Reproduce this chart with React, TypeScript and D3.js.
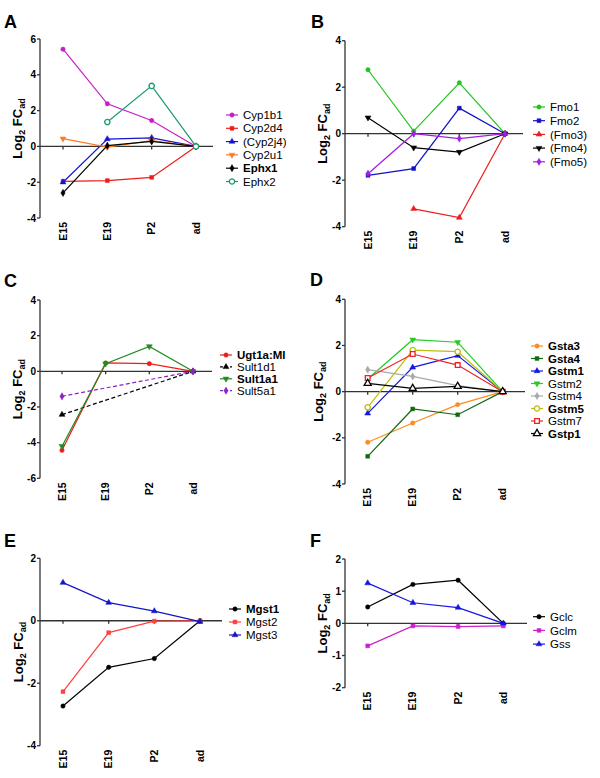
import { useRef, useEffect } from 'react';
import * as d3 from 'd3';

type Val = number | null;

const stages = ['E15', 'E19', 'P2', 'ad'];

// A - Cyp / Ephx
const cyp1b1: Val[] = [5.43, 2.38, 1.45, 0];
const cyp2d4: Val[] = [-1.95, -1.91, -1.73, 0];
const cyp2j4: Val[] = [-2.0, 0.41, 0.48, 0];
const cyp2u1: Val[] = [0.43, -0.04, 0.33, 0];
const ephx1: Val[] = [-2.6, 0.04, 0.28, 0];
const ephx2: Val[] = [null, 1.36, 3.38, 0];

// B - Fmo
const fmo1: Val[] = [2.75, 0.11, 2.19, 0];
const fmo2: Val[] = [-1.79, -1.5, 1.1, 0];
const fmo3: Val[] = [null, -3.23, -3.61, 0];
const fmo4: Val[] = [0.69, -0.6, -0.79, 0];
const fmo5: Val[] = [-1.72, 0, -0.21, 0];

// C - Ugt / Sult
const ugt1a: Val[] = [-4.43, 0.47, 0.43, 0];
const sult1d1: Val[] = [-2.43, null, null, 0];
const sult1a1: Val[] = [-4.2, 0.43, 1.4, 0];
const sult5a1: Val[] = [-1.4, null, null, 0];

// D - Gst
const gsta3: Val[] = [-2.19, -1.36, -0.56, 0];
const gsta4: Val[] = [-2.8, -0.75, -1.0, 0];
const gstm1: Val[] = [-0.94, 1.05, 1.56, 0];
const gstm2: Val[] = [0.55, 2.25, 2.14, 0];
const gstm4: Val[] = [0.95, 0.66, 0.26, 0];
const gstm5: Val[] = [-0.68, 1.8, 1.73, 0];
const gstm7: Val[] = [0.59, 1.63, 1.15, 0];
const gstp1: Val[] = [0.36, 0.14, 0.23, 0];

// E - Mgst
const mgst1: Val[] = [-2.73, -1.49, -1.21, 0];
const mgst2: Val[] = [-2.27, -0.38, -0.01, 0];
const mgst3: Val[] = [1.22, 0.58, 0.31, -0.03];

// F - glutathione synthesis
const gclc: Val[] = [0.51, 1.21, 1.34, 0];
const gclm: Val[] = [-0.7, -0.08, -0.1, -0.08];
const gss: Val[] = [1.25, 0.64, 0.49, 0];

type Marker = 'circle' | 'square' | 'triangle' | 'triangleDown' | 'diamond';

interface Series {
  name: string;
  values: Val[];
  color: string;
  marker: Marker;
  open?: boolean;
  bold?: boolean;
  dashed?: boolean;
}

interface Panel {
  letter: string;
  letterX: number;
  letterY: number;
  axisX: number;
  top: number;
  bottom: number;
  domain: [number, number];
  ticks: number[];
  xRange: [number, number];
  zeroEnd: number;
  labelX: number;
  legendX: number;
  legendY: number;
  legendStep: number;
  series: Series[];
}

const panels: Panel[] = [
  {
    letter: 'A', letterX: 4, letterY: 28,
    axisX: 40, top: 39, bottom: 218, domain: [-4, 6], ticks: [-4, -2, 0, 2, 4, 6],
    xRange: [63, 196], zeroEnd: 213, labelX: 17,
    legendX: 226, legendY: 115, legendStep: 13.3,
    series: [
      { name: 'Cyp1b1', values: cyp1b1, color: '#c51fc5', marker: 'circle' },
      { name: 'Cyp2d4', values: cyp2d4, color: '#ee1c1c', marker: 'square' },
      { name: '(Cyp2j4)', values: cyp2j4, color: '#1515d0', marker: 'triangle' },
      { name: 'Cyp2u1', values: cyp2u1, color: '#ff7b22', marker: 'triangleDown' },
      { name: 'Ephx1', values: ephx1, color: '#000000', marker: 'diamond', bold: true },
      { name: 'Ephx2', values: ephx2, color: '#1b9a6c', marker: 'circle', open: true },
    ],
  },
  {
    letter: 'B', letterX: 311, letterY: 28,
    axisX: 345, top: 40.7, bottom: 226.7, domain: [-4, 4], ticks: [-4, -2, 0, 2, 4],
    xRange: [368, 505], zeroEnd: 523, labelX: 322,
    legendX: 533, legendY: 107, legendStep: 13.7,
    series: [
      { name: 'Fmo1', values: fmo1, color: '#22c322', marker: 'circle' },
      { name: 'Fmo2', values: fmo2, color: '#1212c8', marker: 'square' },
      { name: '(Fmo3)', values: fmo3, color: '#ee1c1c', marker: 'triangle' },
      { name: '(Fmo4)', values: fmo4, color: '#000000', marker: 'triangleDown' },
      { name: '(Fmo5)', values: fmo5, color: '#a21ee8', marker: 'diamond' },
    ],
  },
  {
    letter: 'C', letterX: 4, letterY: 287,
    axisX: 40, top: 300, bottom: 478.3, domain: [-6, 4], ticks: [-6, -4, -2, 0, 2, 4],
    xRange: [62, 193], zeroEnd: 212, labelX: 17,
    legendX: 220, legendY: 355, legendStep: 11.9,
    series: [
      { name: 'Ugt1a:MI', values: ugt1a, color: '#ee1c1c', marker: 'circle', bold: true },
      { name: 'Sult1d1', values: sult1d1, color: '#000000', marker: 'triangle', dashed: true },
      { name: 'Sult1a1', values: sult1a1, color: '#228b22', marker: 'triangleDown', bold: true },
      { name: 'Sult5a1', values: sult5a1, color: '#8a22c8', marker: 'diamond', dashed: true },
    ],
  },
  {
    letter: 'D', letterX: 310, letterY: 286,
    axisX: 345, top: 299.3, bottom: 484, domain: [-4, 4], ticks: [-4, -2, 0, 2, 4],
    xRange: [367.7, 502.7], zeroEnd: 525, labelX: 318,
    legendX: 531, legendY: 346, legendStep: 12.5,
    series: [
      { name: 'Gsta3', values: gsta3, color: '#ff8a22', marker: 'circle', bold: true },
      { name: 'Gsta4', values: gsta4, color: '#136913', marker: 'square', bold: true },
      { name: 'Gstm1', values: gstm1, color: '#1515e6', marker: 'triangle', bold: true },
      { name: 'Gstm2', values: gstm2, color: '#26cc26', marker: 'triangleDown' },
      { name: 'Gstm4', values: gstm4, color: '#a8a8a8', marker: 'diamond' },
      { name: 'Gstm5', values: gstm5, color: '#bdbd10', marker: 'circle', open: true, bold: true },
      { name: 'Gstm7', values: gstm7, color: '#ee2222', marker: 'square', open: true },
      { name: 'Gstp1', values: gstp1, color: '#000000', marker: 'triangle', open: true, bold: true },
    ],
  },
  {
    letter: 'E', letterX: 4, letterY: 547,
    axisX: 40, top: 558.3, bottom: 745.7, domain: [-4, 2], ticks: [-4, -2, 0, 2],
    xRange: [63, 200], zeroEnd: 222, labelX: 18,
    legendX: 229, legendY: 609, legendStep: 13,
    series: [
      { name: 'Mgst1', values: mgst1, color: '#000000', marker: 'circle', bold: true },
      { name: 'Mgst2', values: mgst2, color: '#ff4040', marker: 'square' },
      { name: 'Mgst3', values: mgst3, color: '#1515c8', marker: 'triangle' },
    ],
  },
  {
    letter: 'F', letterX: 310, letterY: 547,
    axisX: 345, top: 559, bottom: 687.7, domain: [-2, 2], ticks: [-2, -1, 0, 1, 2],
    xRange: [367.7, 503.3], zeroEnd: 527, labelX: 322,
    legendX: 533, legendY: 616.7, legendStep: 13.7,
    series: [
      { name: 'Gclc', values: gclc, color: '#000000', marker: 'circle' },
      { name: 'Gclm', values: gclm, color: '#cc22cc', marker: 'square' },
      { name: 'Gss', values: gss, color: '#1515e6', marker: 'triangle' },
    ],
  },
];

const FONT = '"Liberation Sans", Arial, sans-serif';
const AXIS = '#333333';

const symbolFor = (m: Marker, open?: boolean) => {
  const size = open ? 22 : 15;
  if (m === 'circle') return d3.symbol(d3.symbolCircle, size)();
  if (m === 'square') return d3.symbol(d3.symbolSquare, size)();
  if (m === 'diamond') return d3.symbol(d3.symbolDiamond, size)();
  return d3.symbol(d3.symbolTriangle, size)();
};

const drawMarker = (
  g: d3.Selection<SVGGElement, unknown, null, undefined>,
  s: Series,
  x: number,
  y: number,
) => {
  g.append('path')
    .attr('d', symbolFor(s.marker, s.open))
    .attr('transform', `translate(${x},${y})${s.marker === 'triangleDown' ? ' rotate(180)' : ''}`)
    .attr('fill', s.open ? '#fff' : s.color)
    .attr('stroke', s.color)
    .attr('stroke-width', s.open ? 1.3 : 0.5);
};

const App = () => {
  const svgRef = useRef<SVGSVGElement>(null);

  useEffect(() => {
    if (!svgRef.current) return;
    const svg = d3.select(svgRef.current);
    svg.selectAll('*').remove();

    panels.forEach((p) => {
      const g = svg.append('g');
      const y = d3.scaleLinear().domain(p.domain).range([p.bottom, p.top]);
      const x = d3.scalePoint<string>().domain(stages).range(p.xRange);

      // panel letter
      g.append('text')
        .attr('x', p.letterX)
        .attr('y', p.letterY)
        .attr('font-family', FONT)
        .attr('font-weight', 'bold')
        .attr('font-size', 18)
        .text(p.letter);

      // y axis
      g.append('line')
        .attr('x1', p.axisX).attr('x2', p.axisX)
        .attr('y1', p.top).attr('y2', p.bottom)
        .attr('stroke', AXIS).attr('stroke-width', 1.3);
      p.ticks.forEach((t) => {
        g.append('line')
          .attr('x1', p.axisX - 3).attr('x2', p.axisX)
          .attr('y1', y(t)).attr('y2', y(t))
          .attr('stroke', AXIS).attr('stroke-width', 1.3);
        g.append('text')
          .attr('x', p.axisX - 4)
          .attr('y', y(t))
          .attr('dy', '0.35em')
          .attr('text-anchor', 'end')
          .attr('font-family', FONT)
          .attr('font-weight', 'bold')
          .attr('font-size', 10)
          .text(t);
      });

      // zero line and x ticks
      g.append('line')
        .attr('x1', p.axisX).attr('x2', p.zeroEnd)
        .attr('y1', y(0)).attr('y2', y(0))
        .attr('stroke', AXIS).attr('stroke-width', 1.3);
      stages.forEach((st) => {
        g.append('line')
          .attr('x1', x(st)!).attr('x2', x(st)!)
          .attr('y1', y(0)).attr('y2', y(0) + 3)
          .attr('stroke', AXIS).attr('stroke-width', 1.3);
        g.append('text')
          .attr('transform', `translate(${x(st)! + 3.5},${p.bottom + 4}) rotate(-90)`)
          .attr('text-anchor', 'end')
          .attr('font-family', FONT)
          .attr('font-weight', 'bold')
          .attr('font-size', 10.5)
          .text(st);
      });

      // y label
      const lbl = g.append('text')
        .attr('transform', `translate(${p.labelX + 5},${(p.top + p.bottom) / 2}) rotate(-90)`)
        .attr('text-anchor', 'middle')
        .attr('font-family', FONT)
        .attr('font-weight', 'bold')
        .attr('font-size', 13);
      lbl.append('tspan').text('Log');
      lbl.append('tspan').attr('dy', 3).attr('font-size', 9).text('2');
      lbl.append('tspan').attr('dy', -3).text(' FC');
      lbl.append('tspan').attr('dy', 3).attr('font-size', 9).text('ad');

      // series
      const line = d3
        .line<{ st: string; v: number }>()
        .x((d) => x(d.st)!)
        .y((d) => y(d.v));

      p.series.forEach((s) => {
        const pts = stages
          .map((st, i) => ({ st, v: s.values[i] }))
          .filter((d): d is { st: string; v: number } => d.v !== null);
        g.append('path')
          .datum(pts)
          .attr('d', line)
          .attr('fill', 'none')
          .attr('stroke', s.color)
          .attr('stroke-width', 1.2)
          .attr('stroke-dasharray', s.dashed ? '4,2.5' : null);
        pts.forEach((d) => drawMarker(g, s, x(d.st)!, y(d.v)));
      });

      // legend
      p.series.forEach((s, i) => {
        const ly = p.legendY + i * p.legendStep;
        g.append('line')
          .attr('x1', p.legendX).attr('x2', p.legendX + 12)
          .attr('y1', ly).attr('y2', ly)
          .attr('stroke', s.color)
          .attr('stroke-width', 1.2)
          .attr('stroke-dasharray', s.dashed ? '3,2' : null);
        drawMarker(g, s, p.legendX + 6, ly);
        g.append('text')
          .attr('x', p.legendX + 17)
          .attr('y', ly)
          .attr('dy', '0.36em')
          .attr('font-family', FONT)
          .attr('font-weight', s.bold ? 'bold' : 'normal')
          .attr('font-size', 11.5)
          .text(s.name);
      });
    });
  }, []);

  return (
    <svg
      ref={svgRef}
      width={600}
      height={778}
      style={{ position: 'absolute', left: 0, top: 0, background: '#fff' }}
    ></svg>
  );
};

export default App;
